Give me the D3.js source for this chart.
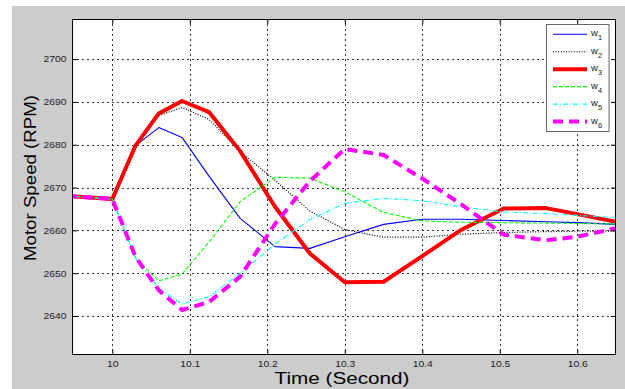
<!DOCTYPE html>
<html>
<head>
<meta charset="utf-8">
<script src="https://cdn.jsdelivr.net/npm/d3@7"></script>
<style>
    html, body { margin: 0; padding: 0; background: #fff; }
    svg { display: block; font-family: "Liberation Sans", Arial, sans-serif; }
</style>
</head>
<body>
<div id="chart"></div>
<script>
// Sample times (seconds) shared by every series
const time = [9.9, 10.0, 10.03, 10.06, 10.09, 10.125, 10.165, 10.21, 10.255, 10.30, 10.35, 10.40, 10.45, 10.505, 10.56, 10.60, 10.65];

// Motor speeds (RPM)
const w1 = [2668.6, 2667.3, 2679.8, 2684.0, 2681.7, 2672.6, 2662.8, 2656.2, 2655.8, 2658.5, 2661.4, 2662.6, 2662.6, 2662.3, 2662.0, 2661.8, 2661.4];
const w2 = [2668.6, 2667.3, 2679.8, 2686.8, 2688.7, 2685.9, 2678.4, 2671.7, 2664.5, 2660.2, 2658.4, 2658.4, 2659.1, 2659.5, 2659.7, 2659.8, 2659.8];
const w3 = [2668.6, 2667.3, 2679.8, 2687.3, 2690.2, 2687.6, 2678.5, 2665.5, 2654.6, 2647.9, 2648.0, 2654.0, 2660.1, 2665.1, 2665.2, 2663.8, 2662.0];
const w4 = [2668.6, 2667.3, 2653.5, 2648.2, 2649.8, 2657.3, 2666.7, 2672.4, 2672.2, 2669.0, 2664.2, 2662.2, 2661.9, 2661.8, 2661.7, 2661.6, 2661.5];
const w5 = [2668.6, 2667.3, 2653.5, 2646.5, 2642.8, 2644.5, 2650.0, 2656.8, 2662.5, 2666.3, 2667.5, 2666.9, 2665.5, 2664.3, 2663.9, 2663.5, 2663.0];
const w6 = [2668.6, 2667.3, 2653.8, 2646.0, 2641.4, 2643.3, 2649.2, 2661.5, 2671.5, 2679.0, 2677.6, 2672.1, 2666.1, 2659.0, 2657.7, 2658.5, 2660.5];

const seriesNames = ['1', '2', '3', '4', '5', '6'];
const seriesValues = [w1, w2, w3, w4, w5, w6];

const xTicks = [10, 10.1, 10.2, 10.3, 10.4, 10.5, 10.6];
const yTicks = [2640, 2650, 2660, 2670, 2680, 2690, 2700];

// Line styles, MATLAB-like
const styles = [
    { color: '#0000ff', width: 1.1, dash: null },
    { color: '#000000', width: 1.2, dash: '1,1.6' },
    { color: '#ff0000', width: 4, dash: null },
    { color: '#00ff00', width: 1.1, dash: '4,2' },
    { color: '#00ffff', width: 1.1, dash: '5,2,1,2' },
    { color: '#ff00ff', width: 4, dash: '10,6' }
];

const width = 625, height = 389;
const plot = { left: 72, right: 616, top: 19, bottom: 355 };

const svg = d3.select('#chart')
    .append('svg')
    .attr('width', width)
    .attr('height', height);

// Grey figure background
svg.append('rect')
    .attr('x', 12).attr('y', 6)
    .attr('width', width - 12).attr('height', height - 6)
    .attr('fill', '#cccccc');

svg.append('rect')
    .attr('x', plot.left).attr('y', plot.top)
    .attr('width', plot.right - plot.left).attr('height', plot.bottom - plot.top)
    .attr('fill', '#ffffff');

const x = d3.scaleLinear().domain([9.948, 10.65]).range([plot.left, plot.right]);
const y = d3.scaleLinear().domain([2630.9, 2709.35]).range([plot.bottom, plot.top]);

// Grid
const grid = svg.append('g')
    .attr('stroke', '#333')
    .attr('stroke-width', 1)
    .attr('stroke-dasharray', '2,3');

grid.selectAll('.vgrid')
    .data(xTicks)
    .enter()
    .append('line')
    .attr('x1', d => Math.round(x(d)) + 0.5)
    .attr('x2', d => Math.round(x(d)) + 0.5)
    .attr('y1', plot.top)
    .attr('y2', plot.bottom);

grid.selectAll('.hgrid')
    .data(yTicks)
    .enter()
    .append('line')
    .attr('y1', d => Math.round(y(d)) + 0.5)
    .attr('y2', d => Math.round(y(d)) + 0.5)
    .attr('x1', plot.left)
    .attr('x2', plot.right);

// Series
svg.append('clipPath')
    .attr('id', 'clip')
    .append('rect')
    .attr('x', plot.left).attr('y', plot.top)
    .attr('width', plot.right - plot.left).attr('height', plot.bottom - plot.top);

const line = d3.line()
    .x((d, i) => x(time[i]))
    .y(d => y(d));

svg.append('g')
    .attr('clip-path', 'url(#clip)')
    .selectAll('path')
    .data(seriesValues)
    .enter()
    .append('path')
    .attr('d', d => line(d))
    .attr('fill', 'none')
    .attr('stroke', (d, i) => styles[i].color)
    .attr('stroke-width', (d, i) => styles[i].width)
    .attr('stroke-dasharray', (d, i) => styles[i].dash)
    .attr('stroke-linejoin', 'round');

// Axes with inward ticks on all four sides
const tickFont = 8.5;
const stretch = 1.22;

const xAxis = svg.append('g')
    .attr('transform', `translate(0,${plot.bottom})`)
    .call(d3.axisBottom(x).tickValues(xTicks).tickSize(-5).tickPadding(0).tickFormat(d3.format('')));
xAxis.selectAll('text')
    .attr('y', 6)
    .attr('font-size', tickFont)
    .attr('fill', '#222')
    .attr('transform', `scale(${stretch},1)`);

svg.append('g')
    .attr('transform', `translate(0,${plot.top})`)
    .call(d3.axisTop(x).tickValues(xTicks).tickSize(-5).tickFormat(''));

const yAxis = svg.append('g')
    .attr('transform', `translate(${plot.left},0)`)
    .call(d3.axisLeft(y).tickValues(yTicks).tickSize(-5).tickFormat(d3.format('d')));
yAxis.selectAll('text')
    .attr('x', -5.5 / stretch)
    .attr('dy', '0.33em')
    .attr('font-size', tickFont)
    .attr('fill', '#222')
    .attr('transform', `scale(${stretch},1)`);

svg.append('g')
    .attr('transform', `translate(${plot.right},0)`)
    .call(d3.axisRight(y).tickValues(yTicks).tickSize(-5).tickFormat(''));

svg.selectAll('.domain').remove();
svg.selectAll('.tick line').attr('stroke', '#000');

svg.append('rect')
    .attr('x', plot.left + 0.5).attr('y', plot.top + 0.5)
    .attr('width', plot.right - plot.left - 1).attr('height', plot.bottom - plot.top - 1)
    .attr('fill', 'none')
    .attr('stroke', '#000');

// Axis titles
svg.append('text')
    .attr('x', (plot.left + plot.right) / 2 - 2)
    .attr('y', 384)
    .attr('text-anchor', 'middle')
    .attr('font-size', 16)
    .attr('textLength', 135)
    .attr('lengthAdjust', 'spacingAndGlyphs')
    .attr('fill', '#000')
    .text('Time (Second)');

svg.append('text')
    .attr('transform', 'translate(36,178) rotate(-90)')
    .attr('text-anchor', 'middle')
    .attr('font-size', 16)
    .attr('textLength', 166)
    .attr('lengthAdjust', 'spacingAndGlyphs')
    .attr('fill', '#000')
    .text('Motor Speed (RPM)');

// Legend
const legend = svg.append('g');
legend.append('rect')
    .attr('x', 546.5).attr('y', 24.5)
    .attr('width', 62.5).attr('height', 107)
    .attr('fill', '#fff')
    .attr('stroke', '#666');

const entry = legend.selectAll('.entry')
    .data(seriesNames)
    .enter()
    .append('g')
    .attr('transform', (d, i) => `translate(0,${34.3 + i * 17.45})`);

entry.append('line')
    .attr('x1', 553).attr('x2', 587)
    .attr('stroke', (d, i) => styles[i].color)
    .attr('stroke-width', (d, i) => styles[i].width)
    .attr('stroke-dasharray', (d, i) => styles[i].dash);

const label = entry.append('text')
    .attr('x', 591)
    .attr('y', 2)
    .attr('font-size', 9.5)
    .attr('fill', '#222');
label.append('tspan').text('w');
label.append('tspan')
    .attr('dy', 4)
    .attr('font-size', 7.5)
    .text(d => d);
</script>
</body>
</html>
